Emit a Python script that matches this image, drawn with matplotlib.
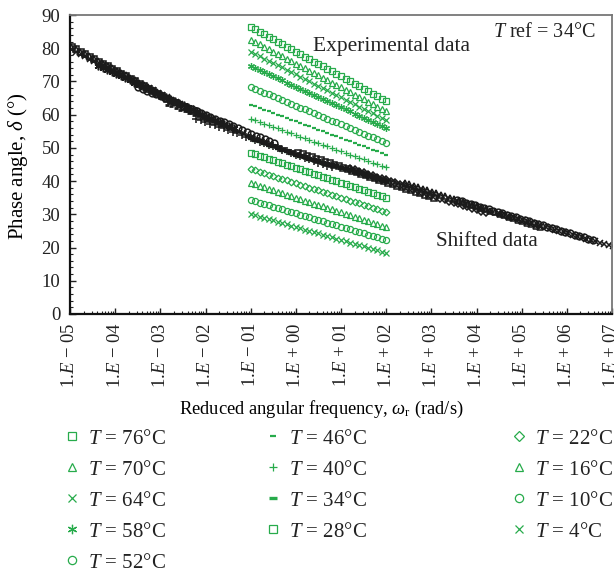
import matplotlib
matplotlib.use("Agg")
import matplotlib.pyplot as plt
from matplotlib.ticker import FixedLocator, FixedFormatter, MultipleLocator, LogLocator, NullFormatter

plt.rcParams['font.family'] = ['Liberation Serif', 'DejaVu Serif']
plt.rcParams['mathtext.fontset'] = 'custom'
plt.rcParams['mathtext.rm'] = 'Liberation Serif'
plt.rcParams['mathtext.it'] = 'Liberation Serif:italic'
plt.rcParams['mathtext.bf'] = 'Liberation Serif:bold'
plt.rcParams['mathtext.fallback'] = 'stix'

# ---------------- data ----------------
temperatures = [76, 70, 64, 58, 52, 46, 40, 34, 28, 22, 16, 10, 4]
freq = [0.1, 0.126, 0.158, 0.2, 0.251, 0.316, 0.398, 0.501, 0.631, 0.794,
        1.0, 1.26, 1.58, 2.0, 2.51, 3.16, 3.98, 5.01, 6.31, 7.94,
        10.0, 12.6, 15.8, 20.0, 25.1, 31.6, 39.8, 50.1, 63.1, 79.4, 100.0]

d76 = [86.5, 85.8, 85.0, 84.3, 83.5, 82.8, 82.0, 81.3, 80.5, 79.8, 79.0, 78.3, 77.5, 76.8, 76.0, 75.3,
       74.5, 73.8, 73.0, 72.3, 71.5, 70.8, 70.0, 69.3, 68.5, 67.8, 67.0, 66.3, 65.5, 64.8, 64.0]
d70 = [82.6, 81.9, 81.2, 80.4, 79.7, 79.0, 78.3, 77.6, 76.8, 76.1, 75.4, 74.7, 74.0, 73.2, 72.5, 71.8,
       71.1, 70.4, 69.6, 68.9, 68.2, 67.5, 66.8, 66.0, 65.3, 64.6, 63.9, 63.2, 62.4, 61.7, 61.0]
d64 = [79.0, 78.3, 77.6, 76.9, 76.2, 75.6, 74.9, 74.2, 73.5, 72.8, 72.1, 71.4, 70.7, 70.0, 69.3, 68.7,
       68.0, 67.3, 66.6, 65.9, 65.2, 64.5, 63.8, 63.1, 62.4, 61.8, 61.1, 60.4, 59.7, 59.0, 58.3]
d58 = [74.6, 74.0, 73.4, 72.7, 72.1, 71.5, 70.9, 70.3, 69.6, 69.0, 68.4, 67.8, 67.2, 66.5, 65.9, 65.3,
       64.7, 64.1, 63.4, 62.8, 62.2, 61.6, 61.0, 60.3, 59.7, 59.1, 58.5, 57.9, 57.2, 56.6, 56.0]
d52 = [68.3, 67.7, 67.2, 66.6, 66.1, 65.5, 64.9, 64.4, 63.8, 63.3, 62.7, 62.1, 61.6, 61.0, 60.5, 59.9,
       59.3, 58.8, 58.2, 57.7, 57.1, 56.5, 56.0, 55.4, 54.9, 54.3, 53.7, 53.2, 52.6, 52.1, 51.5]
d46 = [63.0, 62.5, 62.0, 61.5, 61.0, 60.5, 60.0, 59.5, 59.0, 58.5, 58.0, 57.5, 57.0, 56.5, 56.0, 55.5,
       55.0, 54.5, 54.0, 53.5, 53.0, 52.5, 52.0, 51.5, 51.0, 50.5, 50.0, 49.5, 49.0, 48.5, 48.0]
d40 = [58.8, 58.3, 57.8, 57.3, 56.8, 56.4, 55.9, 55.4, 54.9, 54.4, 53.9, 53.4, 52.9, 52.4, 51.9, 51.5,
       51.0, 50.5, 50.0, 49.5, 49.0, 48.5, 48.0, 47.5, 47.0, 46.6, 46.1, 45.6, 45.1, 44.6, 44.1]
d34 = [53.0, 52.5, 52.0, 51.5, 51.0, 50.5, 50.0, 49.5, 49.0, 48.5, 48.0, 47.6, 47.2, 46.8, 46.4, 46.0,
       45.6, 45.2, 44.8, 44.4, 44.0, 43.6, 43.2, 42.8, 42.4, 42.0, 41.6, 41.2, 40.8, 40.4, 40.0]
d28 = [48.5, 48.1, 47.6, 47.2, 46.7, 46.3, 45.8, 45.4, 44.9, 44.5, 44.0, 43.6, 43.1, 42.7, 42.2, 41.8,
       41.3, 40.9, 40.4, 40.0, 39.5, 39.1, 38.6, 38.2, 37.7, 37.3, 36.8, 36.4, 35.9, 35.5, 35.0]
d22 = [43.6, 43.2, 42.7, 42.3, 41.9, 41.5, 41.0, 40.6, 40.2, 39.7, 39.3, 38.9, 38.4, 38.0, 37.6, 37.2,
       36.7, 36.3, 35.9, 35.4, 35.0, 34.6, 34.1, 33.7, 33.3, 32.9, 32.4, 32.0, 31.6, 31.1, 30.7]
d16 = [39.4, 39.0, 38.5, 38.1, 37.6, 37.2, 36.8, 36.3, 35.9, 35.4, 35.0, 34.6, 34.1, 33.7, 33.2, 32.8,
       32.4, 31.9, 31.5, 31.0, 30.6, 30.2, 29.7, 29.3, 28.8, 28.4, 28.0, 27.5, 27.1, 26.6, 26.2]
d10 = [34.3, 33.9, 33.5, 33.1, 32.7, 32.3, 31.9, 31.5, 31.1, 30.7, 30.3, 29.9, 29.5, 29.1, 28.7, 28.3,
       27.9, 27.5, 27.1, 26.7, 26.3, 25.9, 25.5, 25.1, 24.7, 24.3, 23.9, 23.5, 23.1, 22.7, 22.3]
d4 = [30.1, 29.7, 29.3, 28.9, 28.5, 28.2, 27.8, 27.4, 27.0, 26.6, 26.2, 25.8, 25.4, 25.0, 24.6, 24.3,
      23.9, 23.5, 23.1, 22.7, 22.3, 21.9, 21.5, 21.1, 20.7, 20.4, 20.0, 19.6, 19.2, 18.8, 18.4]
delta = [d76, d70, d64, d58, d52, d46, d40, d34, d28, d22, d16, d10, d4]

# horizontal shift factors log10(aT), Tref = 34 C
log_aT = [-4.76, -4.27, -3.86, -3.38, -2.49, -1.86, -1.2, 0.0, 1.05, 2.2, 3.41, 4.57, 5.53]

xtick_pos = [1e-5, 1e-4, 1e-3, 1e-2, 1e-1, 1e0, 1e1, 1e2, 1e3, 1e4, 1e5, 1e6, 1e7]
xtick_labels = ['1.$E$ − 05', '1.$E$ − 04', '1.$E$ − 03', '1.$E$ − 02', '1.$E$ − 01',
                '1.$E$ + 00', '1.$E$ + 01', '1.$E$ + 02', '1.$E$ + 03', '1.$E$ + 04',
                '1.$E$ + 05', '1.$E$ + 06', '1.$E$ + 07']

# ---------------- styles ----------------
green = '#27ab4b'
black = '#1b1b1b'
styles = [
    dict(marker='s', ms=4.2, mew=0.9),
    dict(marker='^', ms=4.4, mew=0.9),
    dict(marker='x', ms=4.4, mew=0.9),
    dict(marker=(6, 2, 0), ms=5.0, mew=0.9),
    dict(marker='o', ms=4.4, mew=0.9),
    dict(marker='_', ms=3.0, mew=1.6),
    dict(marker='+', ms=4.6, mew=0.9),
    dict(marker='_', ms=4.5, mew=2.4),
    dict(marker='s', ms=4.2, mew=0.9),
    dict(marker='D', ms=3.4, mew=0.9),
    dict(marker='^', ms=4.4, mew=0.9),
    dict(marker='o', ms=4.4, mew=0.9),
    dict(marker='x', ms=4.4, mew=0.9),
]

W, H = 614, 573
fig = plt.figure(figsize=(W / 100, H / 100), dpi=100)
ax = fig.add_axes([70 / W, 1 - 314 / H, 542 / W, 299 / H])

handles = []
for T, d, st in zip(temperatures, delta, styles):
    h, = ax.plot(freq, d, linestyle='none', color=green, mfc='none', mec=green,
                 label=f'$T$ = {T}°C', **st)
    handles.append(h)

for d, st, la in zip(delta, styles, log_aT):
    red_freq = [f * 10 ** la for f in freq]
    st2 = dict(st)
    st2['mew'] = st['mew'] * 1.25
    st2['ms'] = st['ms'] * 1.1
    ax.plot(red_freq, d, linestyle='none', color=black, mfc='none', mec=black, **st2)

ax.set_xscale('log')
ax.set_xlim(1e-5, 1e7)
ax.set_ylim(0, 90)
ax.xaxis.set_major_locator(FixedLocator(xtick_pos))
ax.xaxis.set_major_formatter(FixedFormatter(xtick_labels))
ax.xaxis.set_minor_locator(LogLocator(base=10, subs=[2, 3, 4, 5, 6, 7, 8, 9], numticks=50))
ax.xaxis.set_minor_formatter(NullFormatter())
ax.yaxis.set_major_locator(MultipleLocator(10))
ax.yaxis.set_minor_locator(MultipleLocator(2))

ax.tick_params(axis='both', which='both', direction='in', colors='#222222')
ax.tick_params(axis='both', which='major', length=4, width=1.0, labelsize=13.5)
ax.tick_params(axis='both', which='minor', length=2, width=0.8)
ax.tick_params(axis='x', which='major', pad=6)
ax.tick_params(axis='y', which='major', pad=7)
for lab in ax.get_xticklabels():
    lab.set_rotation(90)

for s in ['left', 'bottom']:
    ax.spines[s].set_color('#111111')
    ax.spines[s].set_linewidth(1.6)
for s in ['top', 'right']:
    ax.spines[s].set_color('#777777')
    ax.spines[s].set_linewidth(1.3)

ax.set_xlabel(r'Reduced angular frequency, $\omega_{\mathrm{r}}$ (rad/s)', fontsize=13.3)
ax.xaxis.set_label_coords((321 - 70) / 542, (314 - 399) / 299)
ax.set_ylabel(r'Phase angle, $\delta$ (°)', fontsize=15)
ax.yaxis.set_label_coords((30 - 70) / 542, (314 - 166) / 299)

ax.text(0.448, 0.896, 'Experimental data', transform=ax.transAxes, fontsize=15.5,
        ha='left', va='center', color='#222222')
ax.text(0.780, 0.943, '$T$ ref = 34°C', transform=ax.transAxes, fontsize=14.5,
        ha='left', va='center', color='#222222')
ax.text(0.675, 0.241, 'Shifted data', transform=ax.transAxes, fontsize=15.2,
        ha='left', va='center', color='#222222')

# legend in three columns placed below the axes
cols = [(handles[0:5], 62), (handles[5:9], 263), (handles[9:13], 509)]
for hs, xpx in cols:
    leg = fig.legend(handles=hs, loc='upper left', bbox_to_anchor=(xpx / W, 1 - 429 / H),
                     frameon=False, fontsize=15, handlelength=1.0, handletextpad=0.25,
                     labelspacing=0.55, borderpad=0, borderaxespad=0, markerscale=1.35)
    for t in leg.get_texts():
        t.set_color('#222222')

fig.savefig('out.png', dpi=100)
